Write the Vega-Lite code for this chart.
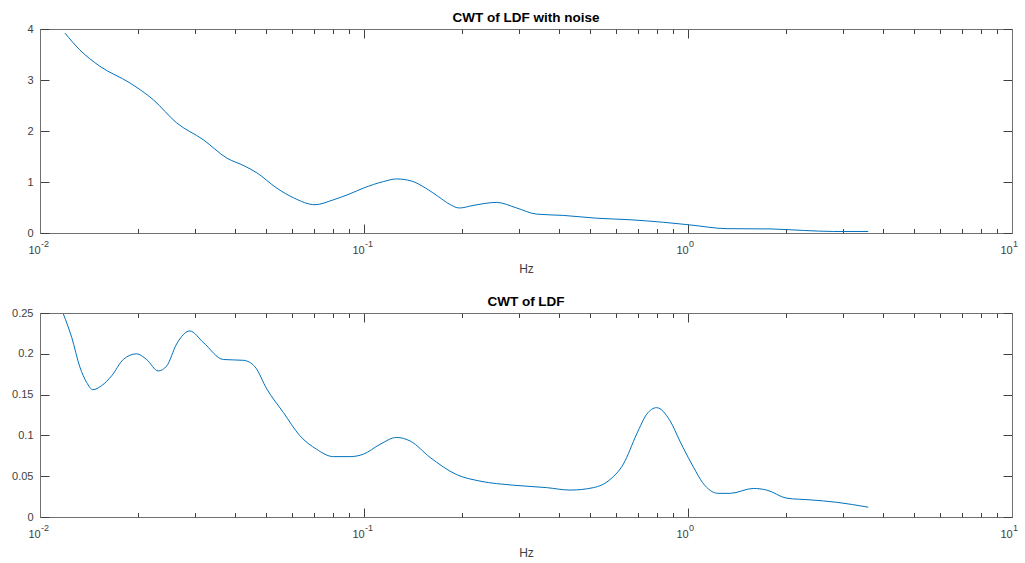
{
  "$schema": "https://vega.github.io/schema/vega-lite/v6.json",
  "background": "white",
  "padding": {"left": 11, "top": 10, "right": 5, "bottom": 2},
  "spacing": 20,
  "config": {
    "view": {"stroke": null},
    "font": "Liberation Sans",
    "axis": {
      "grid": false,
      "labelFont": "Liberation Sans",
      "labelFontSize": 11,
      "labelColor": "#404040",
      "domainColor": "#707070",
      "tickColor": "#404040",
      "domainWidth": 1,
      "tickWidth": 1,
      "titleFont": "Liberation Sans",
      "titleFontSize": 12,
      "titleFontWeight": "normal",
      "titleColor": "#404040",
      "labelFlush": false,
      "labelOverlap": false
    },
    "title": {"font": "Liberation Sans", "fontSize": 13.5, "fontWeight": "bold", "color": "#000000", "offset": -1, "anchor": "middle"}
  },
  "datasets": {
    "noise": [
      {"f": 0.01194, "v": 3.92}, {"f": 0.01327, "v": 3.59}, {"f": 0.0153, "v": 3.27}, {"f": 0.01897, "v": 2.94},
      {"f": 0.0224, "v": 2.61}, {"f": 0.0264, "v": 2.16}, {"f": 0.0319, "v": 1.83}, {"f": 0.0377, "v": 1.47},
      {"f": 0.0429, "v": 1.31}, {"f": 0.0467, "v": 1.18}, {"f": 0.0538, "v": 0.88}, {"f": 0.0606, "v": 0.69},
      {"f": 0.0706, "v": 0.555}, {"f": 0.0804, "v": 0.65}, {"f": 0.0906, "v": 0.77}, {"f": 0.0996, "v": 0.88},
      {"f": 0.115, "v": 1.01}, {"f": 0.126, "v": 1.06}, {"f": 0.14, "v": 1.02}, {"f": 0.155, "v": 0.88},
      {"f": 0.17, "v": 0.71}, {"f": 0.183, "v": 0.57}, {"f": 0.197, "v": 0.49},
      {"f": 0.217, "v": 0.54}, {"f": 0.257, "v": 0.6}, {"f": 0.296, "v": 0.49}, {"f": 0.341, "v": 0.37},
      {"f": 0.412, "v": 0.345}, {"f": 0.522, "v": 0.29}, {"f": 0.662, "v": 0.26}, {"f": 0.84, "v": 0.21},
      {"f": 1.01, "v": 0.16}, {"f": 1.32, "v": 0.085}, {"f": 1.79, "v": 0.08}, {"f": 2.27, "v": 0.05},
      {"f": 2.81, "v": 0.03}, {"f": 3.6, "v": 0.03}
    ],
    "clean": [
      {"f": 0.0118, "v": 0.249}, {"f": 0.01253, "v": 0.22}, {"f": 0.01327, "v": 0.184}, {"f": 0.01393, "v": 0.165},
      {"f": 0.01455, "v": 0.156}, {"f": 0.0155, "v": 0.161}, {"f": 0.01664, "v": 0.173}, {"f": 0.01807, "v": 0.193},
      {"f": 0.01986, "v": 0.2}, {"f": 0.02133, "v": 0.193}, {"f": 0.02317, "v": 0.179}, {"f": 0.0246, "v": 0.185},
      {"f": 0.0264, "v": 0.212}, {"f": 0.029, "v": 0.228}, {"f": 0.0319, "v": 0.214}, {"f": 0.0368, "v": 0.193},
      {"f": 0.0425, "v": 0.192}, {"f": 0.0461, "v": 0.184}, {"f": 0.0501, "v": 0.157}, {"f": 0.0564, "v": 0.128},
      {"f": 0.0634, "v": 0.0996}, {"f": 0.0714, "v": 0.083}, {"f": 0.0804, "v": 0.074}, {"f": 0.0906, "v": 0.074},
      {"f": 0.0996, "v": 0.077}, {"f": 0.112, "v": 0.089}, {"f": 0.126, "v": 0.0975}, {"f": 0.139, "v": 0.093},
      {"f": 0.16, "v": 0.073}, {"f": 0.193, "v": 0.052}, {"f": 0.228, "v": 0.044}, {"f": 0.289, "v": 0.039},
      {"f": 0.366, "v": 0.036}, {"f": 0.433, "v": 0.033}, {"f": 0.511, "v": 0.036}, {"f": 0.575, "v": 0.046},
      {"f": 0.632, "v": 0.065}, {"f": 0.695, "v": 0.102}, {"f": 0.746, "v": 0.126}, {"f": 0.8, "v": 0.134},
      {"f": 0.88, "v": 0.118}, {"f": 0.944, "v": 0.093}, {"f": 0.966, "v": 0.085}, {"f": 1.04, "v": 0.061},
      {"f": 1.11, "v": 0.042}, {"f": 1.24, "v": 0.029}, {"f": 1.35, "v": 0.029}, {"f": 1.59, "v": 0.035},
      {"f": 1.75, "v": 0.033}, {"f": 2.02, "v": 0.023}, {"f": 2.38, "v": 0.021}, {"f": 2.88, "v": 0.018},
      {"f": 3.6, "v": 0.012}
    ]
  },
  "vconcat": [
    {
      "title": "CWT of LDF with noise",
      "width": 972,
      "height": 204,
      "data": {"name": "noise"},
      "resolve": {"scale": {"x": "independent", "y": "independent"}, "axis": {"x": "independent", "y": "independent"}},
      "layer": [
        {
          "mark": {"type": "line", "color": "#0072BD", "strokeWidth": 1, "interpolate": "monotone", "clip": true},
          "encoding": {
            "x": {"field": "f", "type": "quantitative", "scale": {"type": "log", "domain": [0.01, 10]},
              "axis": {"orient": "bottom", "values": [0.01, 0.1, 1, 10], "labelExpr": "'10'", "tickSize": -9, "labelPadding": 20, "labelOffset": -6, "title": "Hz", "titlePadding": 8}},
            "y": {"field": "v", "type": "quantitative", "scale": {"domain": [0, 4], "nice": false, "zero": false},
              "axis": {"orient": "left", "values": [0, 1, 2, 3, 4], "format": "~g", "tickSize": -9, "labelPadding": 16, "title": null}}
          }
        },
        {
          "mark": {"type": "line", "opacity": 0},
          "encoding": {
            "x": {"field": "f", "type": "quantitative", "scale": {"type": "log", "domain": [0.01, 10]},
              "axis": {"orient": "bottom", "values": [0.01, 0.1, 1, 10], "labelExpr": "'' + round(log(datum.value) / LN10)", "ticks": false, "tickSize": 0, "domain": false, "labelFontSize": 9, "labelAlign": "left", "labelOffset": 0.5, "labelPadding": 6, "title": null}},
            "y": {"field": "v", "type": "quantitative", "scale": {"domain": [0, 4], "nice": false, "zero": false},
              "axis": {"orient": "right", "values": [0, 1, 2, 3, 4], "labels": false, "tickSize": -9, "title": null}}
          }
        },
        {
          "mark": {"type": "line", "opacity": 0},
          "encoding": {
            "x": {"field": "f", "type": "quantitative", "scale": {"type": "log", "domain": [0.01, 10]},
              "axis": {"orient": "bottom", "values": [0.02, 0.03, 0.04, 0.05, 0.06, 0.07, 0.08, 0.09, 0.2, 0.3, 0.4, 0.5, 0.6, 0.7, 0.8, 0.9, 2, 3, 4, 5, 6, 7, 8, 9], "labels": false, "domain": false, "tickSize": -4.5, "title": null}},
            "y": {"field": "v", "type": "quantitative", "scale": {"domain": [0, 4], "nice": false, "zero": false}, "axis": null}
          }
        },
        {
          "mark": {"type": "line", "opacity": 0},
          "encoding": {
            "x": {"field": "f", "type": "quantitative", "scale": {"type": "log", "domain": [0.01, 10]},
              "axis": {"orient": "top", "values": [0.01, 0.1, 1, 10], "labels": false, "tickSize": -9, "title": null}},
            "y": {"field": "v", "type": "quantitative", "scale": {"domain": [0, 4], "nice": false, "zero": false}, "axis": null}
          }
        },
        {
          "mark": {"type": "line", "opacity": 0},
          "encoding": {
            "x": {"field": "f", "type": "quantitative", "scale": {"type": "log", "domain": [0.01, 10]},
              "axis": {"orient": "top", "values": [0.02, 0.03, 0.04, 0.05, 0.06, 0.07, 0.08, 0.09, 0.2, 0.3, 0.4, 0.5, 0.6, 0.7, 0.8, 0.9, 2, 3, 4, 5, 6, 7, 8, 9], "labels": false, "domain": false, "tickSize": -4.5, "title": null}},
            "y": {"field": "v", "type": "quantitative", "scale": {"domain": [0, 4], "nice": false, "zero": false}, "axis": null}
          }
        }
      ]
    },
    {
      "title": "CWT of LDF",
      "width": 972,
      "height": 204,
      "data": {"name": "clean"},
      "resolve": {"scale": {"x": "independent", "y": "independent"}, "axis": {"x": "independent", "y": "independent"}},
      "layer": [
        {
          "mark": {"type": "line", "color": "#0072BD", "strokeWidth": 1, "interpolate": "monotone", "clip": true},
          "encoding": {
            "x": {"field": "f", "type": "quantitative", "scale": {"type": "log", "domain": [0.01, 10]},
              "axis": {"orient": "bottom", "values": [0.01, 0.1, 1, 10], "labelExpr": "'10'", "tickSize": -9, "labelPadding": 20, "labelOffset": -6, "title": "Hz", "titlePadding": 8}},
            "y": {"field": "v", "type": "quantitative", "scale": {"domain": [0, 0.25], "nice": false, "zero": false},
              "axis": {"orient": "left", "values": [0, 0.05, 0.1, 0.15, 0.2, 0.25], "format": "~g", "tickSize": -9, "labelPadding": 16, "title": null}}
          }
        },
        {
          "mark": {"type": "line", "opacity": 0},
          "encoding": {
            "x": {"field": "f", "type": "quantitative", "scale": {"type": "log", "domain": [0.01, 10]},
              "axis": {"orient": "bottom", "values": [0.01, 0.1, 1, 10], "labelExpr": "'' + round(log(datum.value) / LN10)", "ticks": false, "tickSize": 0, "domain": false, "labelFontSize": 9, "labelAlign": "left", "labelOffset": 0.5, "labelPadding": 6, "title": null}},
            "y": {"field": "v", "type": "quantitative", "scale": {"domain": [0, 0.25], "nice": false, "zero": false},
              "axis": {"orient": "right", "values": [0, 0.05, 0.1, 0.15, 0.2, 0.25], "labels": false, "tickSize": -9, "title": null}}
          }
        },
        {
          "mark": {"type": "line", "opacity": 0},
          "encoding": {
            "x": {"field": "f", "type": "quantitative", "scale": {"type": "log", "domain": [0.01, 10]},
              "axis": {"orient": "bottom", "values": [0.02, 0.03, 0.04, 0.05, 0.06, 0.07, 0.08, 0.09, 0.2, 0.3, 0.4, 0.5, 0.6, 0.7, 0.8, 0.9, 2, 3, 4, 5, 6, 7, 8, 9], "labels": false, "domain": false, "tickSize": -4.5, "title": null}},
            "y": {"field": "v", "type": "quantitative", "scale": {"domain": [0, 0.25], "nice": false, "zero": false}, "axis": null}
          }
        },
        {
          "mark": {"type": "line", "opacity": 0},
          "encoding": {
            "x": {"field": "f", "type": "quantitative", "scale": {"type": "log", "domain": [0.01, 10]},
              "axis": {"orient": "top", "values": [0.01, 0.1, 1, 10], "labels": false, "tickSize": -9, "title": null}},
            "y": {"field": "v", "type": "quantitative", "scale": {"domain": [0, 0.25], "nice": false, "zero": false}, "axis": null}
          }
        },
        {
          "mark": {"type": "line", "opacity": 0},
          "encoding": {
            "x": {"field": "f", "type": "quantitative", "scale": {"type": "log", "domain": [0.01, 10]},
              "axis": {"orient": "top", "values": [0.02, 0.03, 0.04, 0.05, 0.06, 0.07, 0.08, 0.09, 0.2, 0.3, 0.4, 0.5, 0.6, 0.7, 0.8, 0.9, 2, 3, 4, 5, 6, 7, 8, 9], "labels": false, "domain": false, "tickSize": -4.5, "title": null}},
            "y": {"field": "v", "type": "quantitative", "scale": {"domain": [0, 0.25], "nice": false, "zero": false}, "axis": null}
          }
        }
      ]
    }
  ]
}
